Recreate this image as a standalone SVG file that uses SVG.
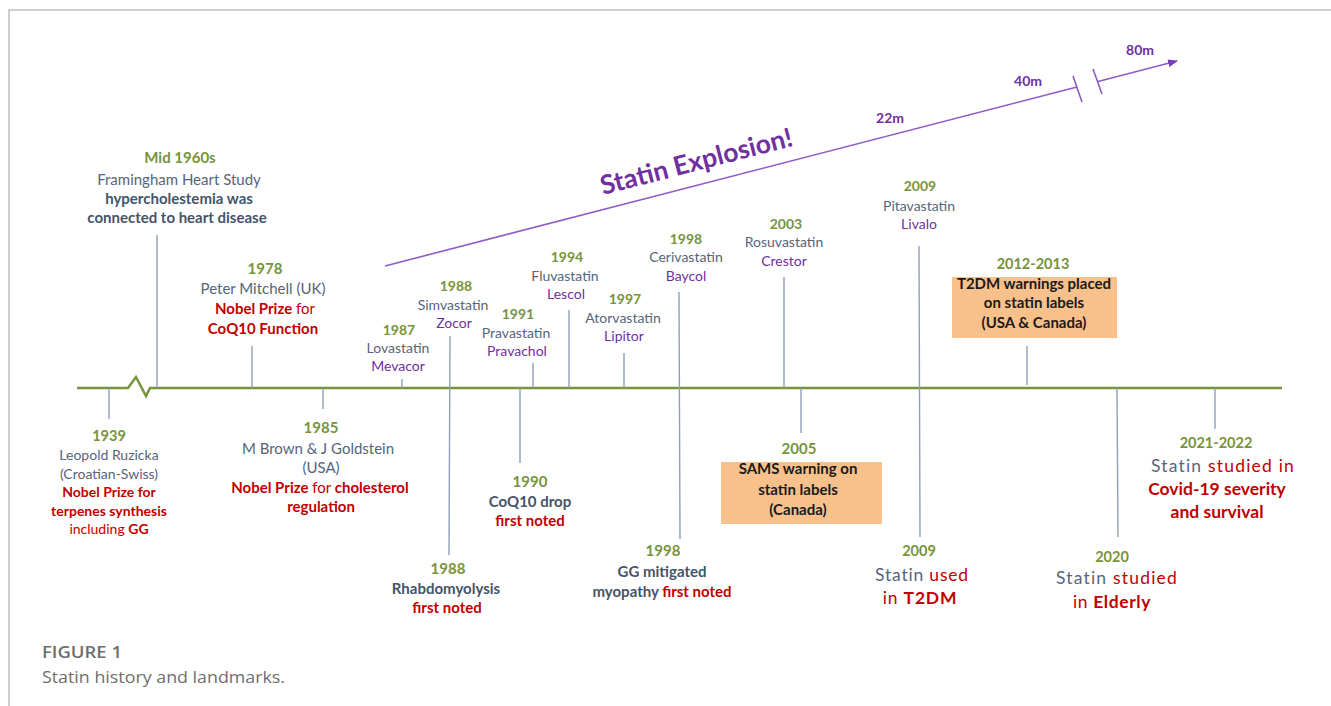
<svg xmlns="http://www.w3.org/2000/svg" width="1331" height="706" viewBox="0 0 1331 706">
<defs>
<style>
text{font-family:Lato,"Liberation Sans",sans-serif;text-anchor:middle;font-size:14px}
.m text{font-size:15px}
.yr{font-weight:bold;fill:#77933C}
.g{fill:#56657A}
.gb{fill:#44546A;font-weight:bold}
.r{fill:#C00000}
.rb{fill:#C00000;font-weight:bold}
.p{fill:#7030A0}
.k{fill:#1a1a1a;font-weight:bold}
.big{font-size:17.5px;letter-spacing:1.2px}
.tick{stroke:#8EA0B8;stroke-width:1.4;fill:none}
.box{fill:#F8C18B}
.pl{stroke:#8E5CC8;stroke-width:1.6;fill:none}
.pt{fill:#7030A0;font-weight:bold}
.cap{font-family:"Open Sans",Lato,sans-serif;text-anchor:start;fill:#6E6E6E}
</style>
<marker id="ah" markerWidth="10" markerHeight="8" refX="9" refY="4" orient="auto" markerUnits="userSpaceOnUse">
<path d="M0,0 L10,4 L0,8 z" fill="#7A3DBA"/>
</marker>
</defs>
<rect width="1331" height="706" fill="#fff"/>
<path d="M9,706 V10 H1331" fill="none" stroke="#BDBDBD" stroke-width="1.5"/>

<g id="connectors">
<polyline points="77,388 128,388 136,377 146,396 150,388 1282,388" fill="none" stroke="#77933C" stroke-width="2.5"/>
<line class="tick" x1="109" y1="388" x2="109" y2="419"/>
<line class="tick" x1="157" y1="235" x2="157" y2="388"/>
<line class="tick" x1="252" y1="346" x2="252" y2="388"/>
<line class="tick" x1="323" y1="388" x2="323" y2="409"/>
<line class="tick" x1="402" y1="379" x2="402" y2="388"/>
<line class="tick" x1="450" y1="336" x2="449" y2="555"/>
<line class="tick" x1="520" y1="388" x2="520" y2="463"/>
<line class="tick" x1="533" y1="363" x2="533" y2="388"/>
<line class="tick" x1="569" y1="310" x2="569" y2="388"/>
<line class="tick" x1="624" y1="353" x2="624" y2="388"/>
<line class="tick" x1="679" y1="292" x2="680" y2="539"/>
<line class="tick" x1="784" y1="277" x2="784" y2="388"/>
<line class="tick" x1="801" y1="388" x2="801" y2="433"/>
<line class="tick" x1="919" y1="246" x2="920" y2="537"/>
<line class="tick" x1="1027" y1="346" x2="1027" y2="385"/>
<line class="tick" x1="1117" y1="388" x2="1118" y2="537"/>
<line class="tick" x1="1215" y1="388" x2="1215" y2="429"/>
<line class="pl" x1="385" y1="266" x2="1077" y2="87"/>
<line class="pl" x1="1098" y1="81.5" x2="1177" y2="61" marker-end="url(#ah)"/>
<line class="pl" x1="1073" y1="76" x2="1082" y2="102"/>
<line class="pl" x1="1093" y1="69" x2="1102" y2="94"/>
</g>

<g id="explosion">
<text class="pt" x="603" y="195" transform="rotate(-14.5 603 195)" style="text-anchor:start;font-size:26.5px">Statin Explosion!</text>
<text class="pt" x="890" y="123" style="font-size:14px">22m</text>
<text class="pt" x="1028" y="86" style="font-size:14px">40m</text>
<text class="pt" x="1140" y="55" style="font-size:14px">80m</text>
</g>

<g id="n1939">
<text class="yr" x="109" y="441" style="font-size:14.5px">1939</text>
<text class="g" x="109" y="460">Leopold Ruzicka</text>
<text class="g" x="109" y="479">(Croatian-Swiss)</text>
<text class="rb" x="109" y="497">Nobel Prize for</text>
<text class="rb" x="109" y="516">terpenes synthesis</text>
<text class="r" x="109" y="534">including <tspan class="rb">GG</tspan></text>
</g>

<g id="n1960" class="m">
<text class="yr" x="180" y="163">Mid 1960s</text>
<text class="g" x="179" y="185">Framingham Heart Study</text>
<text class="gb" x="179" y="204">hypercholestemia was</text>
<text class="gb" x="177" y="223">connected to heart disease</text>
</g>

<g id="n1978" class="m">
<text class="yr" x="265" y="274">1978</text>
<text class="g" x="263" y="294">Peter Mitchell (UK)</text>
<text class="r" x="265" y="314"><tspan class="rb">Nobel Prize</tspan> for</text>
<text class="rb" x="263" y="334">CoQ10 Function</text>
</g>

<g id="n1985" class="m">
<text class="yr" x="321" y="433">1985</text>
<text class="g" x="318" y="454">M Brown &amp; J Goldstein</text>
<text class="g" x="321" y="473">(USA)</text>
<text class="r" x="320" y="493"><tspan class="rb">Nobel Prize</tspan> for <tspan class="rb">cholesterol</tspan></text>
<text class="rb" x="321" y="512">regulation</text>
</g>

<g id="n1987">
<text class="yr" x="399" y="335">1987</text>
<text class="g" x="398" y="353">Lovastatin</text>
<text class="p" x="398" y="371">Mevacor</text>
</g>

<g id="n1988a">
<text class="yr" x="456" y="291">1988</text>
<text class="g" x="453" y="310">Simvastatin</text>
<text class="p" x="454" y="328">Zocor</text>
</g>

<g id="n1991">
<text class="yr" x="518" y="319">1991</text>
<text class="g" x="516" y="338">Pravastatin</text>
<text class="p" x="517" y="356">Pravachol</text>
</g>

<g id="n1994">
<text class="yr" x="567" y="262">1994</text>
<text class="g" x="565" y="281">Fluvastatin</text>
<text class="p" x="566" y="299">Lescol</text>
</g>

<g id="n1997">
<text class="yr" x="625" y="304">1997</text>
<text class="g" x="623" y="323">Atorvastatin</text>
<text class="p" x="624" y="341">Lipitor</text>
</g>

<g id="n1998a">
<text class="yr" x="686" y="244">1998</text>
<text class="g" x="686" y="262">Cerivastatin</text>
<text class="p" x="686" y="281">Baycol</text>
</g>

<g id="n2003">
<text class="yr" x="786" y="229">2003</text>
<text class="g" x="784" y="247">Rosuvastatin</text>
<text class="p" x="784" y="266">Crestor</text>
</g>

<g id="n2009a">
<text class="yr" x="920" y="191">2009</text>
<text class="g" x="919" y="211">Pitavastatin</text>
<text class="p" x="919" y="229">Livalo</text>
</g>

<g id="n2012" class="m">
<text class="yr" x="1033" y="269" style="font-size:14.5px">2012-2013</text>
<rect class="box" x="952" y="277" width="165" height="61"/>
<text class="k" x="1034" y="289">T2DM warnings placed</text>
<text class="k" x="1034" y="308">on statin  labels</text>
<text class="k" x="1034" y="328">(USA &amp; Canada)</text>
</g>

<g id="n1990" class="m">
<text class="yr" x="530" y="487">1990</text>
<text class="gb" x="530" y="507">CoQ10 drop</text>
<text class="rb" x="530" y="526">first noted</text>
</g>

<g id="n1988b" class="m">
<text class="yr" x="448" y="574">1988</text>
<text class="gb" x="446" y="594">Rhabdomyolysis</text>
<text class="rb" x="447" y="613">first noted</text>
</g>

<g id="n1998b" class="m">
<text class="yr" x="663" y="556">1998</text>
<text class="gb" x="662" y="577">GG mitigated</text>
<text class="gb" x="662" y="597">myopathy <tspan class="rb">first noted</tspan></text>
</g>

<g id="n2005" class="m">
<text class="yr" x="799" y="454">2005</text>
<rect class="box" x="721" y="462" width="161" height="62"/>
<text class="k" x="798" y="474">SAMS warning on</text>
<text class="k" x="798" y="495">statin labels</text>
<text class="k" x="798" y="515">(Canada)</text>
</g>

<g id="n2009b">
<text class="yr" x="919" y="556" style="font-size:14.5px">2009</text>
<text class="g big" x="922" y="581" style="letter-spacing:0.8px">Statin <tspan class="r">used</tspan></text>
<text class="r big" x="920" y="604" style="letter-spacing:0.8px">in <tspan class="rb">T2DM</tspan></text>
</g>

<g id="n2020">
<text class="yr" x="1112" y="562" style="font-size:14.5px">2020</text>
<text class="g big" x="1117" y="584">Statin <tspan class="r">studied</tspan></text>
<text class="r big" x="1112" y="608" style="letter-spacing:0.6px">in <tspan class="rb">Elderly</tspan></text>
</g>

<g id="n2021">
<text class="yr" x="1216" y="448" style="font-size:14.5px">2021-2022</text>
<text class="g big" x="1223" y="472">Statin <tspan class="r">studied in</tspan></text>
<text class="rb" x="1217" y="495" style="font-size:17.5px">Covid-19 severity</text>
<text class="rb" x="1217" y="518" style="font-size:17.5px">and survival</text>
</g>

<g id="caption">
<text class="cap" x="42" y="658" textLength="80" lengthAdjust="spacingAndGlyphs" style="font-size:16.5px;font-weight:600">FIGURE 1</text>
<text class="cap" x="42" y="683" textLength="243" lengthAdjust="spacingAndGlyphs" style="font-size:17px">Statin history and landmarks.</text>
</g>
</svg>
